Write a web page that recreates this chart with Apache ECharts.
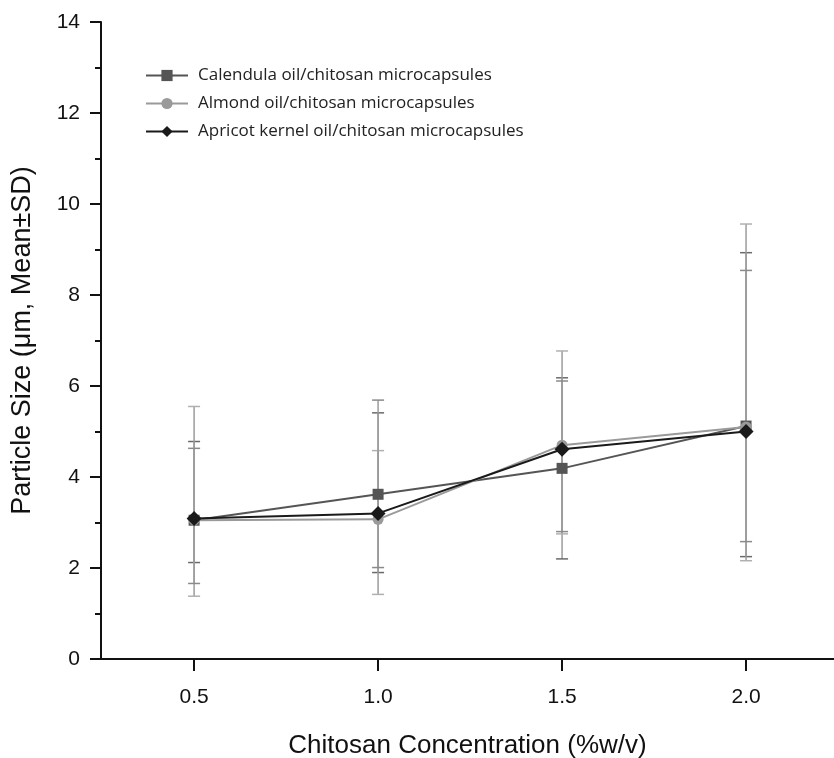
<!DOCTYPE html>
<html>
<head>
<meta charset="utf-8">
<script src="https://cdn.jsdelivr.net/npm/echarts@6/dist/echarts.min.js"></script>
<style>
  html, body { margin: 0; padding: 0; background: #fff; }
  #chart { width: 834px; height: 758px; }
</style>
</head>
<body>
<div id="chart"></div>
<script>
// chitosan concentration (%w/v)
const concentrations = [0.5, 1.0, 1.5, 2.0]
const seriesNames = [
  'Calendula oil/chitosan microcapsules',
  'Almond oil/chitosan microcapsules',
  'Apricot kernel oil/chitosan microcapsules'
]

// mean particle size (µm)
const calendulaMean = [3.05, 3.62, 4.19, 5.12]
const almondMean = [3.05, 3.07, 4.70, 5.10]
const apricotMean = [3.09, 3.20, 4.61, 5.00]

// error bar ends [low, high]
const calendulaErr = [[2.12, 4.78], [1.90, 5.41], [2.20, 6.18], [2.25, 8.93]]
const almondErr = [[1.38, 5.55], [1.42, 4.58], [2.75, 6.77], [2.16, 9.56]]
const apricotErr = [[1.66, 4.63], [2.01, 5.69], [2.80, 6.11], [2.58, 8.54]]

const xTicks = [0.5, 1.0, 1.5, 2.0]

const means = [calendulaMean, almondMean, apricotMean]
const errs = [calendulaErr, almondErr, apricotErr]
const lineColors = ['#555555', '#9a9a9a', '#1a1a1a']
const capColors = ['#6a6a6a', '#b0b0b0', '#8a8a8a']
const symbols = ['rect', 'circle', 'diamond']
const symbolSizes = [11, 11, 15]

const chart = echarts.init(document.getElementById('chart'))

const errorSeries = errs.map((e, si) => ({
  type: 'custom',
  silent: true,
  z: 1,
  data: concentrations.map((x, i) => [x, e[i][0], e[i][1]]),
  renderItem: (params, api) => {
    const lo = api.coord([api.value(0), api.value(1)])
    const hi = api.coord([api.value(0), api.value(2)])
    const w = 6
    const style = { stroke: '#9c9c9c', lineWidth: 1.5 }
    const capStyle = { stroke: capColors[si], lineWidth: 1.5 }
    return {
      type: 'group',
      children: [
        { type: 'line', shape: { x1: hi[0], y1: hi[1], x2: lo[0], y2: lo[1] }, style },
        { type: 'line', shape: { x1: hi[0] - w, y1: hi[1], x2: hi[0] + w, y2: hi[1] }, style: capStyle },
        { type: 'line', shape: { x1: lo[0] - w, y1: lo[1], x2: lo[0] + w, y2: lo[1] }, style: capStyle }
      ]
    }
  }
}))

const lineSeries = means.map((m, si) => ({
  name: seriesNames[si],
  type: 'line',
  z: 3 + si,
  data: concentrations.map((x, i) => [x, m[i]]),
  symbol: symbols[si],
  symbolSize: symbolSizes[si],
  lineStyle: { color: lineColors[si], width: 2 },
  itemStyle: { color: lineColors[si] }
}))

const sans = 'Liberation Sans, Arial, sans-serif'
const axisFont = { fontFamily: sans, fontSize: 21, color: '#111' }

chart.setOption({
  animation: false,
  grid: { left: 101, right: 0, top: 22, bottom: 99, outerBoundsMode: 'none' },
  legend: {
    left: 140,
    top: 62,
    orient: 'vertical',
    itemWidth: 42,
    itemHeight: 14,
    itemGap: 11,
    data: seriesNames,
    textStyle: {
      fontFamily: 'Open Sans, Lato, sans-serif',
      fontSize: 17,
      color: '#222',
      padding: [0, 0, 0, 5]
    }
  },
  xAxis: {
    type: 'value',
    min: 0.247,
    max: 2.239,
    name: 'Chitosan Concentration (%w/v)',
    nameLocation: 'middle',
    nameGap: 74,
    nameTextStyle: { fontFamily: sans, fontSize: 26, color: '#111' },
    axisLine: { lineStyle: { color: '#111', width: 2 } },
    axisTick: { show: true, customValues: xTicks, length: 12, lineStyle: { color: '#111', width: 2 } },
    axisLabel: {
      customValues: xTicks,
      margin: 28,
      formatter: v => v.toFixed(1),
      ...axisFont
    },
    splitLine: { show: false }
  },
  yAxis: {
    type: 'value',
    min: 0,
    max: 14,
    interval: 2,
    name: 'Particle Size (μm, Mean±SD)',
    nameLocation: 'middle',
    nameGap: 65,
    nameTextStyle: { fontFamily: sans, fontSize: 27, color: '#111' },
    axisLine: { show: true, lineStyle: { color: '#111', width: 2 } },
    axisTick: { show: true, length: 11, lineStyle: { color: '#111', width: 2 } },
    minorTick: { show: true, splitNumber: 2, length: 6, lineStyle: { color: '#111', width: 2 } },
    axisLabel: { margin: 21, ...axisFont },
    splitLine: { show: false }
  },
  series: [...errorSeries, ...lineSeries]
})
</script>
</body>
</html>
